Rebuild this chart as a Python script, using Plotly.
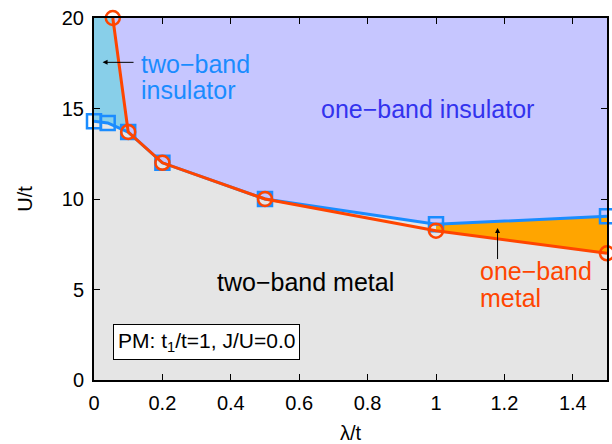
import plotly.graph_objects as go

# data
blue_x = [0.0, 0.04, 0.1, 0.2, 0.5, 1.0, 1.5]
blue_y = [14.3, 14.2, 13.7, 12.0, 10.0, 8.6, 9.05]
red_x = [0.055, 0.1, 0.2, 0.5, 1.0, 1.5]
red_y = [20.0, 13.7, 12.0, 10.0, 8.25, 7.0]
x_ticks = [0, 0.2, 0.4, 0.6, 0.8, 1.0, 1.2, 1.4]
x_tick_text = ["0", "0.2", "0.4", "0.6", "0.8", "1", "1.2", "1.4"]
y_ticks = [0, 5, 10, 15, 20]

RED = "#ff4500"
BLUE = "#1a8cff"
FAM = "Liberation Sans, Arial, sans-serif"

fig = go.Figure()

# one-band insulator region (above the upper boundary)
up_x = [red_x[0]] + blue_x[2:] + [1.5, red_x[0]]
up_y = [red_y[0]] + blue_y[2:] + [20, 20]
fig.add_trace(go.Scatter(x=up_x, y=up_y, fill="toself", fillcolor="#c6c6ff",
                         line=dict(width=0), mode="lines", hoverinfo="skip", showlegend=False))
# two-band insulator region
tb_x = [0, 0] + blue_x[:3] + [red_x[0], 0]
tb_y = [20, blue_y[0]] + blue_y[:3] + [red_y[0], 20]
fig.add_trace(go.Scatter(x=tb_x, y=tb_y, fill="toself", fillcolor="#88cfe9",
                         line=dict(width=0), mode="lines", hoverinfo="skip", showlegend=False))
# one-band metal region
om_x = blue_x[5:] + red_x[4:][::-1]
om_y = blue_y[5:] + red_y[4:][::-1]
fig.add_trace(go.Scatter(x=om_x + [om_x[0]], y=om_y + [om_y[0]], fill="toself", fillcolor="#ffa500",
                         line=dict(width=0), mode="lines", hoverinfo="skip", showlegend=False))

# lines
fig.add_trace(go.Scatter(x=blue_x, y=blue_y, mode="lines+markers",
                         line=dict(color=BLUE, width=3),
                         marker=dict(symbol="square-open", size=14, color=BLUE, line=dict(width=2.5)),
                         cliponaxis=False, showlegend=False))
fig.add_trace(go.Scatter(x=red_x, y=red_y, mode="lines+markers",
                         line=dict(color=RED, width=3),
                         marker=dict(symbol="circle-open", size=14, color=RED, line=dict(width=2.5)),
                         cliponaxis=False, showlegend=False))

LBL = 25
fig.add_annotation(x=0.131, y=17.44, text="two−band", showarrow=False, xanchor="left",
                   font=dict(family=FAM, size=LBL, color=BLUE))
fig.add_annotation(x=0.131, y=16.0, text="insulator", showarrow=False, xanchor="left",
                   font=dict(family=FAM, size=LBL, color=BLUE))
fig.add_annotation(x=0.025, y=17.55, ax=0.12, ay=17.55, axref="x", ayref="y", text="",
                   showarrow=True, arrowhead=2, arrowsize=1, arrowwidth=1, arrowcolor="black")
fig.add_annotation(x=0.974, y=15.0, text="one−band insulator", showarrow=False,
                   font=dict(family=FAM, size=LBL, color="#3333ee"))
fig.add_annotation(x=0.617, y=5.44, text="two−band metal", showarrow=False,
                   font=dict(family=FAM, size=LBL, color="black"))
fig.add_annotation(x=1.124, y=6.0, text="one−band", showarrow=False, xanchor="left",
                   font=dict(family=FAM, size=LBL, color=RED))
fig.add_annotation(x=1.124, y=4.55, text="metal", showarrow=False, xanchor="left",
                   font=dict(family=FAM, size=LBL, color=RED))
fig.add_annotation(x=1.18, y=8.4, ax=1.18, ay=6.6, axref="x", ayref="y", text="",
                   showarrow=True, arrowhead=2, arrowsize=1, arrowwidth=1, arrowcolor="black")
fig.add_annotation(x=0.055, y=2.1, text="PM: t<sub>1</sub>/t=1, J/U=0.0", showarrow=False,
                   xanchor="left", font=dict(family=FAM, size=21, color="black"),
                   bgcolor="white", bordercolor="black", borderwidth=1, borderpad=4)

font = dict(family=FAM, size=20, color="black")
axis_common = dict(showgrid=False, zeroline=False, showline=True, linecolor="black", linewidth=2,
                   mirror="ticks", ticks="inside", ticklen=6, tickwidth=1, tickcolor="black",
                   tickfont=font, automargin=False)
fig.update_xaxes(range=[0, 1.5], tickvals=x_ticks, ticktext=x_tick_text, ticklabelstandoff=4,
                 title=dict(text="λ/t", font=font, standoff=20), **axis_common)
fig.update_yaxes(range=[0, 20], tickvals=y_ticks, ticklabelstandoff=4,
                 title=dict(text="U/t", font=font, standoff=24), **axis_common)

fig.update_layout(width=612, height=444, margin=dict(l=94, r=5, t=18, b=64),
                  plot_bgcolor="#e5e5e5", paper_bgcolor="white", showlegend=False)

fig.write_html("out.html", config={"displayModeBar": False},
               post_script="document.body.style.margin='0';document.body.style.overflow='hidden';")
